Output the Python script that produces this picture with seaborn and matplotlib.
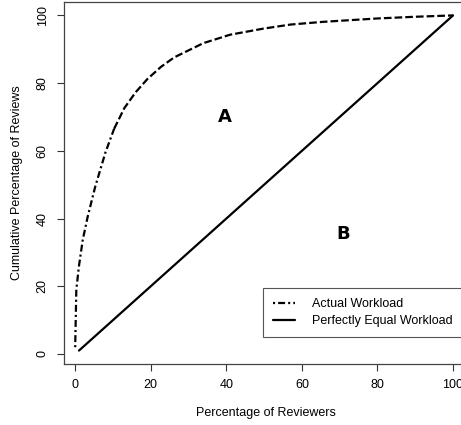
import numpy as np
import pandas as pd
import matplotlib
matplotlib.use("Agg")
import matplotlib.pyplot as plt
import seaborn as sns

sns.set_style("white")
plt.rcParams["font.family"] = ["Liberation Sans", "DejaVu Sans"]
plt.rcParams["lines.scale_dashes"] = False
plt.rcParams["text.color"] = "black"
plt.rcParams["axes.labelcolor"] = "black"
plt.rcParams["xtick.color"] = "black"
plt.rcParams["ytick.color"] = "black"

# --- data ---
reviewers_pct = [0, 0.3, 1, 2, 3.3, 5.3, 8, 10.3, 13, 16, 19.1, 22.7, 26.2, 33.9, 41,
                 49.8, 57, 65.6, 80, 90, 100]
reviews_pct = [2, 19, 26, 33.7, 40.5, 49.4, 59.5, 66.5, 72.6, 77.3, 81.2, 84.8, 87.6, 91.8, 94.3,
               96.1, 97.3, 98.1, 99.1, 99.6, 100]
equal_x = [1, 100]
equal_y = [1, 100]
x_ticks = [0, 20, 40, 60, 80, 100]
y_ticks = [0, 20, 40, 60, 80, 100]
region_labels = ["A", "B"]
region_x = [39.5, 71]
region_y = [70, 35.5]

# the steep part of the curve reads as dash-dot, the flat part as plain dashes
split = 7

fig = plt.figure(figsize=(4.61, 4.25), dpi=100)
ax = fig.add_axes([64 / 461, 61 / 425, 404 / 461, 362 / 425])

sns.lineplot(x=reviewers_pct[:split + 1], y=reviews_pct[:split + 1], ax=ax, color="black",
             lw=1.6, sort=False, estimator=None, label="Actual Workload")
sns.lineplot(x=reviewers_pct[split:], y=reviews_pct[split:], ax=ax, color="black",
             lw=1.6, sort=False, estimator=None)
sns.lineplot(x=equal_x, y=equal_y, ax=ax, color="black", lw=1.6,
             sort=False, estimator=None, label="Perfectly Equal Workload")
ax.lines[0].set_dashes((1.5, 2.2, 5, 2.2))
ax.lines[1].set_dashes((5.5, 2.2))

for lab, xx, yy in zip(region_labels, region_x, region_y):
    ax.text(xx, yy, lab, fontsize=13, fontweight="heavy", family="DejaVu Sans",
            ha="center", va="center", color="black")

ax.set_xlim(-2.96, 103.96)
ax.set_ylim(-2.96, 103.96)
ax.set_xticks(x_ticks)
ax.set_yticks(y_ticks)
ax.tick_params(axis="both", direction="out", length=5, width=0.8, color="#333",
               labelsize=9, pad=6, bottom=True, left=True)
for lbl in ax.get_yticklabels():
    lbl.set_rotation(90)
    lbl.set_va("center")
for sp in ax.spines.values():
    sp.set_color("#444")
    sp.set_linewidth(0.9)

ax.set_xlabel("Percentage of Reviewers", fontsize=9, labelpad=11)
ax.set_ylabel("Cumulative Percentage of Reviews", fontsize=9, labelpad=10)

leg = ax.legend(loc="lower left", bbox_to_anchor=(0.4926, 0.0746, 0.5074, 0.141),
                mode="expand", borderaxespad=0, fontsize=9, frameon=True,
                fancybox=False, handlelength=1.76, handletextpad=1.36,
                borderpad=0.8, labelspacing=0.36)
leg.get_frame().set_edgecolor("#555")
leg.get_frame().set_linewidth(0.8)
leg.get_frame().set_alpha(1)

fig.savefig("out.png", dpi=100)
